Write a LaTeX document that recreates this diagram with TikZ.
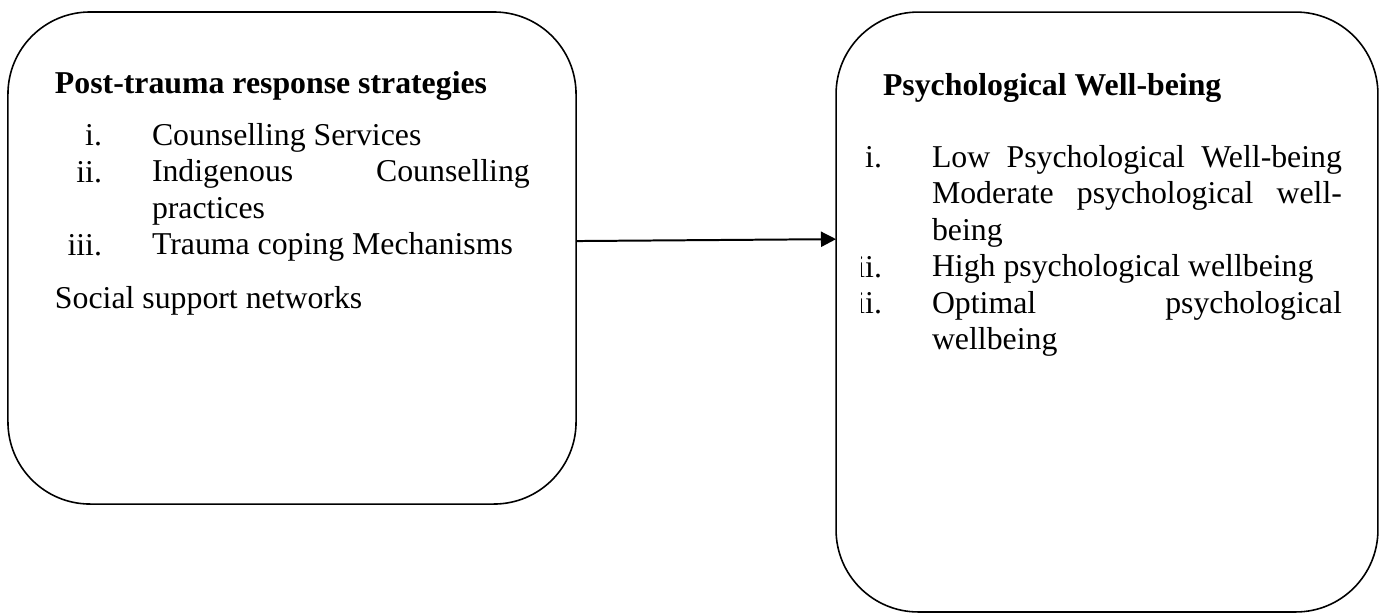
\documentclass[tikz,border=0pt]{standalone}
\usepackage{fontspec}
\setmainfont{Liberation Serif}
\usetikzlibrary{arrows.meta}
\newcommand\jline[2]{\makebox[#1][s]{#2}}
\begin{document}
\begin{tikzpicture}[x=0.3774pt,y=-0.3774pt,inner sep=0pt,outer sep=0pt,
box/.style={draw,rectangle,rounded corners=31pt,line width=0.6pt},
head/.style={anchor=base west,font=\fontsize{12}{14}\selectfont\bfseries},
txt/.style={anchor=base west,font=\fontsize{12}{14}\selectfont,align=left},
num/.style={anchor=base east,font=\fontsize{12}{14}\selectfont}]
\useasboundingbox (0,0) rectangle (1383,614);
\draw (292,258) node[box,minimum width=214.4pt,minimum height=185.7pt] (strat) {};
\draw (1107,312) node[box,minimum width=204.5pt,minimum height=226.4pt] (wellb) {};
% left box
\draw (55,93) node[head] (stratT) {Post-trauma response strategies};
\draw (102,145) node[num] {i.};
\draw (102,182) node[num] {ii.};
\draw (102,255) node[num] {iii.};
\draw (152,145) node[txt,text width=142.6pt,font=\fontsize{12}{13.8}\selectfont] (stratL) {\spaceskip=0pt Counselling Services\\
\jline{142.6pt}{Indigenous Counselling}\\
practices\\
Trauma coping Mechanisms};
\draw (55,308) node[txt] (social) {Social support networks};
% right box
\draw (883,95) node[head] (wellbT) {Psychological Well-being};
\draw (882,167) node[num] {i.};
\begin{scope}
\clip (861,250) rectangle (900,330);
\draw (882,277) node[num] {ii.};
\draw (882,313) node[num] {iii.};
\end{scope}
\draw (932,167) node[txt,text width=154.7pt,font=\fontsize{12}{13.8}\selectfont] (wellbL) {\spaceskip=0pt \jline{154.7pt}{Low Psychological Well-being}\\
\jline{154.7pt}{Moderate psychological well-}\\
being\\
High psychological wellbeing\\
\jline{154.7pt}{Optimal psychological}\\
wellbeing};
\draw[line width=0.75pt,-{Triangle[length=5.7pt,width=5.7pt]}] ([yshift=6.4pt]strat.east) -- ([yshift=27.5pt]wellb.west);
\end{tikzpicture}
\end{document}
